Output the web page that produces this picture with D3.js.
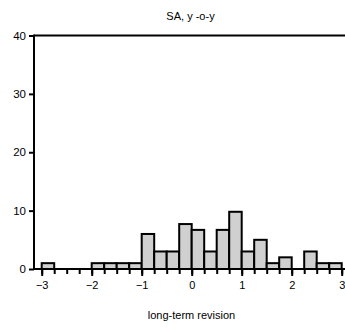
<!DOCTYPE html>
<html>
<head>
<meta charset="utf-8">
<script src="https://cdn.jsdelivr.net/npm/d3@7"></script>
<style>
  html, body { margin: 0; padding: 0; background: #fff; }
  svg { display: block; font-family: "Liberation Sans", Arial, sans-serif; }
</style>
</head>
<body>
<svg id="chart" width="345" height="329"></svg>
<script>
// Histogram of long-term revisions (bin width 0.25)
const binLeft = [-3, -2.75, -2.5, -2.25, -2, -1.75, -1.5, -1.25, -1, -0.75, -0.5, -0.25,
                 0, 0.25, 0.5, 0.75, 1, 1.25, 1.5, 1.75, 2, 2.25, 2.5, 2.75];
const binWidth = 0.25;
const counts = [1, 0, 0, 0, 1, 1, 1, 1, 6, 3, 3, 7.7,
                6.7, 3, 6.7, 9.8, 3, 5, 1, 2, 0, 3, 1, 1];
const xMajorTicks = [-3, -2, -1, 0, 1, 2, 3];
const xMinorTicks = [-3, -2.75, -2.5, -2.25, -2, -1.75, -1.5, -1.25, -1, -0.75, -0.5, -0.25,
                     0, 0.25, 0.5, 0.75, 1, 1.25, 1.5, 1.75, 2, 2.25, 2.5, 2.75, 3];
const yTicks = [0, 10, 20, 30, 40];
const title = "SA, y -o-y";
const xTitle = "long-term revision";

const svg = d3.select("#chart");
const W = 345;
const axisX = 34;      // position of the vertical axis
const x = d3.scaleLinear().domain([-3, 3]).range([41.7, 341.7]);
const y = d3.scaleLinear().domain([0, 40]).range([269, 35.5]);

const bins = binLeft.map((b, i) => ({ x0: b, x1: b + binWidth, v: counts[i] }))
  .filter(d => d.v > 0);

// bars
svg.append("g")
  .selectAll("rect")
  .data(bins)
  .join("rect")
  .attr("x", d => x(d.x0))
  .attr("y", d => y(d.v))
  .attr("width", d => x(d.x1) - x(d.x0))
  .attr("height", d => y(0) - y(d.v))
  .attr("fill", "#d0d0d0")
  .attr("stroke", "#000")
  .attr("stroke-width", 2);

// frame: left axis line, top line and baseline
const frame = svg.append("g").attr("stroke", "#000").attr("stroke-width", 2).attr("fill", "none");
frame.append("line").attr("x1", axisX).attr("x2", axisX).attr("y1", y(40) - 1).attr("y2", y(0) + 1);
frame.append("line").attr("x1", axisX).attr("x2", W).attr("y1", y(40)).attr("y2", y(40));
frame.append("line").attr("x1", axisX).attr("x2", W).attr("y1", y(0)).attr("y2", y(0));

// y axis ticks and labels
const yAxis = svg.append("g")
  .attr("transform", `translate(${axisX},0)`)
  .call(d3.axisLeft(y).tickValues(yTicks).tickSize(5).tickPadding(3));
yAxis.select(".domain").remove();
yAxis.selectAll(".tick line").attr("stroke-width", 2);
yAxis.selectAll(".tick text").attr("font-size", 11.5).attr("fill", "#000")
  .attr("font-family", "Liberation Sans, Arial, sans-serif");

// x axis: minor ticks every bin, longer ticks with labels at integers
const xMinor = svg.append("g")
  .attr("transform", `translate(0,${y(0)})`)
  .call(d3.axisBottom(x).tickValues(xMinorTicks).tickSize(5).tickFormat(""));
xMinor.select(".domain").remove();
xMinor.selectAll(".tick line").attr("stroke-width", 2);

const xMajor = svg.append("g")
  .attr("transform", `translate(0,${y(0)})`)
  .call(d3.axisBottom(x).tickValues(xMajorTicks).tickSize(7).tickPadding(5).tickFormat(d3.format("d")));
xMajor.select(".domain").remove();
xMajor.selectAll(".tick line").attr("stroke-width", 2);
xMajor.selectAll(".tick text").attr("font-size", 11).attr("fill", "#000")
  .attr("font-family", "Liberation Sans, Arial, sans-serif");

// titles
svg.append("text")
  .attr("x", 190.5).attr("y", 20)
  .attr("text-anchor", "middle")
  .attr("font-size", 11)
  .text(title);

svg.append("text")
  .attr("x", 191.5).attr("y", 319)
  .attr("text-anchor", "middle")
  .attr("font-size", 11)
  .text(xTitle);
</script>
</body>
</html>
